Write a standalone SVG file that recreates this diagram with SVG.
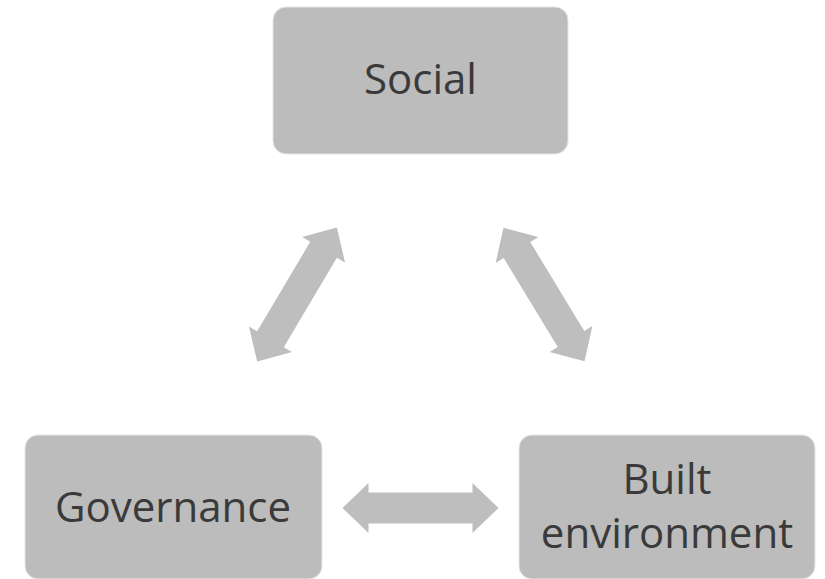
<svg xmlns="http://www.w3.org/2000/svg" xmlns:xlink="http://www.w3.org/1999/xlink" width="825" height="579" viewBox="0 0 825 579">
<style>
.box{fill:#bcbcbc;stroke:#e6e6e6;stroke-width:1}
.lbl{font-family:"Open Sans","Liberation Sans",sans-serif;font-size:42px;fill:#3a3a3a;text-anchor:middle}
.arr{fill:#bebebe}
</style>
<defs>
<path id="dbl" d="M-78,0 L-52,-25 L-52,-15.5 L52,-15.5 L52,-25 L78,0 L52,25 L52,15.5 L-52,15.5 L-52,25 Z"/>
</defs>
<rect width="825" height="579" fill="#ffffff"/>
<g id="connectors" class="arr">
<use xlink:href="#dbl" transform="translate(297,294.5) rotate(-59.3)"/>
<use xlink:href="#dbl" transform="translate(544,294.5) rotate(58.7)"/>
<use xlink:href="#dbl" transform="translate(420.5,508)"/>
</g>
<g id="social">
<rect class="box" x="273" y="7" width="295" height="147" rx="13"/>
<text class="lbl" x="420.5" y="94">Social</text>
</g>
<g id="governance">
<rect class="box" x="25" y="435" width="297" height="144" rx="13"/>
<text class="lbl" x="173" y="522">Governance</text>
</g>
<g id="built-environment">
<rect class="box" x="519" y="435" width="296" height="144" rx="13"/>
<text class="lbl" x="667" y="494">Built</text>
<text class="lbl" x="667" y="548">environment</text>
</g>
</svg>
